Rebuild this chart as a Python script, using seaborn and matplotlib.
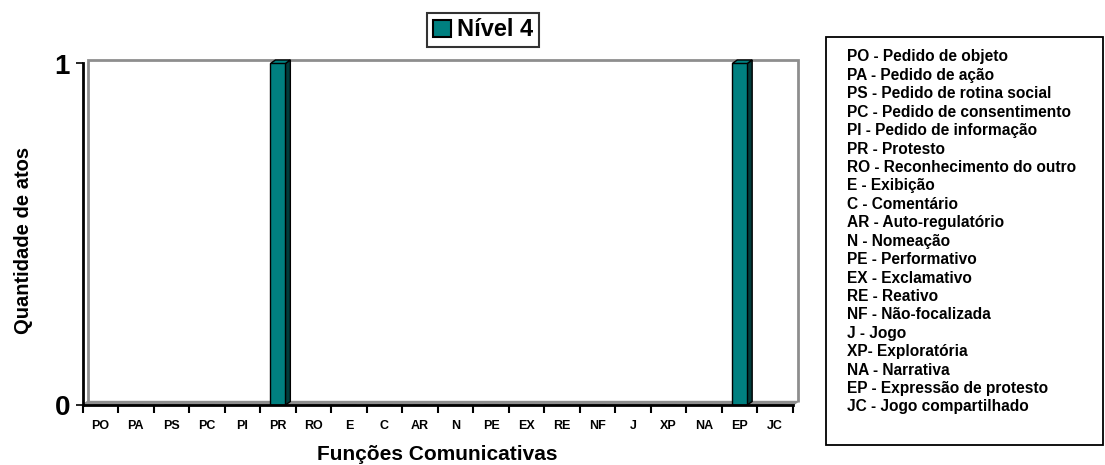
import matplotlib
matplotlib.use("Agg")
import matplotlib.pyplot as plt
from matplotlib.patches import Patch, Polygon, Rectangle
import seaborn as sns
import numpy as np

# Communicative functions (x categories) and their descriptions
codes = ["PO", "PA", "PS", "PC", "PI", "PR", "RO", "E", "C", "AR",
         "N", "PE", "EX", "RE", "NF", "J", "XP", "NA", "EP", "JC"]
descriptions = ["Pedido de objeto", "Pedido de ação", "Pedido de rotina social",
                "Pedido de consentimento", "Pedido de informação", "Protesto",
                "Reconhecimento do outro", "Exibição", "Comentário",
                "Auto-regulatório", "Nomeação", "Performativo", "Exclamativo",
                "Reativo", "Não-focalizada", "Jogo", "Exploratória", "Narrativa",
                "Expressão de protesto", "Jogo compartilhado"]
separators = [" - "] * 16 + ["- "] + [" - "] * 3
# Number of acts per function
counts = [0, 0, 0, 0, 0, 1, 0, 0, 0, 0, 0, 0, 0, 0, 0, 0, 0, 0, 1, 0]
series_name = "Nível 4"
y_ticks = [0, 1]

sns.set_theme(style="white")
plt.rcParams["font.family"] = ["Liberation Sans", "DejaVu Sans"]
plt.rcParams["font.weight"] = "bold"
for key in ["text.color", "axes.labelcolor", "xtick.color", "ytick.color"]:
    plt.rcParams[key] = "black"

W, H, DPI = 1105, 465, 100
fig = plt.figure(figsize=(W / DPI, H / DPI), dpi=DPI)
fig.patch.set_facecolor("white")

def px_box(x0, y0, x1, y1):
    return [x0 / W, 1 - y1 / H, (x1 - x0) / W, (y1 - y0) / H]

ax = fig.add_axes(px_box(82.5, 63.5, 793, 405))
ax.set_facecolor("none")

teal = "#008080"
sns.barplot(x=codes, y=counts, color=teal, saturation=1, width=0.42,
            edgecolor="black", linewidth=1, ax=ax, zorder=3)

ax.set_xlim(-0.5, len(codes) - 0.5)
ax.set_ylim(0, 1)

# 3-D depth offset (pixels)
DX, DY = 5, 3.5
grey = "#8e8e8e"

def to_data(pts_px):
    return ax.transData.inverted().transform(pts_px)

def shift(pts_data, dx=DX, dy=DY):
    p = ax.transData.transform(pts_data)
    return to_data(p + np.array([dx, dy]))

x0, x1 = ax.get_xlim()
# back wall outline
wall = shift([(x0, 0), (x0, 1), (x1, 1), (x1, 0)])
ax.add_patch(Polygon(wall, closed=False, fill=False, edgecolor=grey,
                     linewidth=2, zorder=1, clip_on=False))
# floor
floor_pts = np.vstack([[(x0, 0), (x1, 0)], shift([(x1, 0), (x0, 0)])])
ax.add_patch(Polygon(floor_pts, closed=True, facecolor=grey, edgecolor=grey,
                     linewidth=1, zorder=1, clip_on=False))

# side and top faces of the bars
for bar in list(ax.patches):
    if not isinstance(bar, Rectangle):
        continue
    h = bar.get_height()
    if h <= 0:
        continue
    bx0 = bar.get_x()
    bx1 = bx0 + bar.get_width()
    side = np.vstack([[(bx1, 0), (bx1, h)], shift([(bx1, h), (bx1, 0)])])
    top = np.vstack([[(bx0, h), (bx1, h)], shift([(bx1, h), (bx0, h)])])
    ax.add_patch(Polygon(side, closed=True, facecolor="#003c3c",
                         edgecolor="black", linewidth=1, zorder=2.5, clip_on=False))
    ax.add_patch(Polygon(top, closed=True, facecolor=teal,
                         edgecolor="black", linewidth=1, zorder=2.5, clip_on=False))

# front axes
for s in ["top", "right"]:
    ax.spines[s].set_visible(False)
for s in ["left", "bottom"]:
    ax.spines[s].set_visible(True)
    ax.spines[s].set_color("black")
    ax.spines[s].set_linewidth(2)
    ax.spines[s].set_zorder(4)

ax.set_yticks(y_ticks)
ax.set_yticklabels([str(v) for v in y_ticks], fontsize=20, fontweight="bold")
ax.tick_params(axis="y", which="major", direction="out", length=5, width=1.2,
               color="black", left=True, pad=4)

ax.set_xticks(range(len(codes)))
ax.set_xticklabels(codes, fontsize=9, fontweight="bold")
ax.set_xticks(np.arange(-0.5, len(codes), 1.0), minor=True)
ax.tick_params(axis="x", which="major", length=0, pad=11)
ax.tick_params(axis="x", which="minor", direction="out", length=6, width=1.5,
               color="black", bottom=True)
ax.grid(False)

ax.set_xlabel("")
ax.set_ylabel("")
fig.text(437 / W, 1 - 454 / H, "Funções Comunicativas", fontsize=15,
         fontweight="bold", ha="center", va="center")
fig.text(24 / W, 1 - 240 / H, "Quantidade de atos", fontsize=14.5,
         fontweight="bold", ha="center", va="center", rotation=90)

# series legend
handle = Patch(facecolor=teal, edgecolor="black", linewidth=1.5)
leg = fig.legend([handle], [series_name], loc="center",
                 bbox_to_anchor=(483 / W, 1 - 30 / H),
                 prop={"size": 17, "weight": "bold"},
                 frameon=True, fancybox=False, shadow=False,
                 handlelength=0.75, handleheight=0.75, handletextpad=0.25,
                 borderpad=0.25, borderaxespad=0)
leg.get_frame().set_edgecolor("black")
leg.get_frame().set_linewidth(1.5)

# abbreviation key box
bx = px_box(826, 37, 1103, 445)
fig.add_artist(Rectangle((bx[0], bx[1]), bx[2], bx[3], transform=fig.transFigure,
                         fill=False, edgecolor="black", linewidth=1.3))
for i, (c, sep, d) in enumerate(zip(codes, separators, descriptions)):
    fig.text(847 / W, 1 - (57 + i * 18.42) / H, f"{c}{sep}{d}", fontsize=11.2,
             fontweight="bold", ha="left", va="center")

fig.savefig("out.png", dpi=DPI, facecolor="white")
